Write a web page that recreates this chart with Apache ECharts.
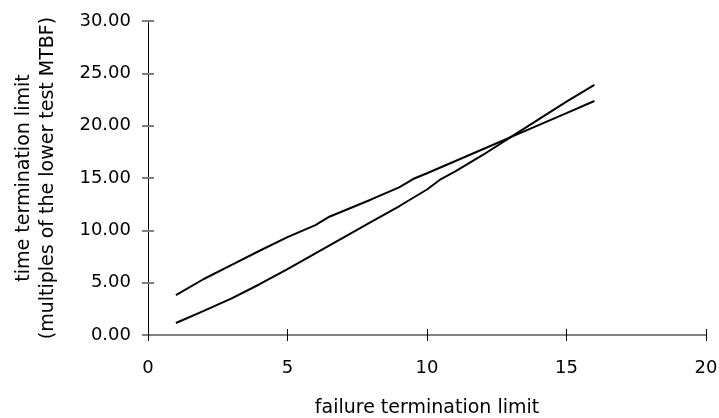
<!DOCTYPE html>
<html>
<head>
<meta charset="utf-8">
<script src="https://cdn.jsdelivr.net/npm/echarts@6/dist/echarts.min.js"></script>
<style>
  html, body { margin: 0; padding: 0; background: #fff; }
  #chart { width: 719px; height: 418px; }
</style>
</head>
<body>
<div id="chart"></div>
<script>
// values
const upperX = [1, 2, 3, 4, 5, 6, 6.5, 7, 8, 9, 9.5, 10, 11, 12, 13, 14, 15, 16]
const upperY = [3.8, 5.35, 6.7, 8.05, 9.35, 10.5, 11.3, 11.85, 12.95, 14.1, 14.9, 15.45, 16.6, 17.75, 18.9, 20.05, 21.2, 22.36]
const lowerX = [1, 2, 3, 4, 5, 6, 7, 8, 9, 10, 10.5, 11, 12, 13, 14, 15, 16]
const lowerY = [1.15, 2.3, 3.5, 4.85, 6.3, 7.8, 9.3, 10.8, 12.3, 13.9, 14.9, 15.6, 17.2, 18.9, 20.6, 22.3, 23.9]
const xTicks = [0, 5, 10, 15, 20]
const yTicks = [0, 5, 10, 15, 20, 25, 30]

const font = 'DejaVu Sans'
const pairs = (xs, ys) => xs.map((x, i) => [x, ys[i]])

const chart = echarts.init(document.getElementById('chart'))
chart.setOption({
    animation: false,
    backgroundColor: '#fff',
    textStyle: { fontFamily: font },
    grid: { left: 148, right: 13, top: 21, bottom: 83, outerBoundsMode: 'none', containLabel: false },
    xAxis: [
        {
            type: 'value',
            min: xTicks[0], max: xTicks[xTicks.length - 1], interval: 5,
            name: 'failure termination limit',
            nameLocation: 'middle',
            nameGap: 64,
            nameTextStyle: { color: '#000', fontSize: 19, fontFamily: font },
            axisLine: { lineStyle: { color: '#808080', width: 2 } },
            axisTick: { show: false },
            axisLabel: { color: '#000', fontSize: 18, margin: 24, fontFamily: font },
            splitLine: { show: false }
        },
        {
            // tick-only axis, shifted up so its ticks cross the real axis line
            type: 'value', position: 'bottom', offset: -6,
            min: xTicks[0], max: xTicks[xTicks.length - 1], interval: 5,
            axisLine: { show: true, lineStyle: { color: 'rgba(0,0,0,0)' } },
            axisTick: { show: true, length: 12, lineStyle: { color: '#000' } },
            axisLabel: { show: false },
            splitLine: { show: false }
        }
    ],
    yAxis: [
        {
            type: 'value',
            min: yTicks[0], max: yTicks[yTicks.length - 1], interval: 5,
            name: 'time termination limit\n(multiples of the lower test MTBF)',
            nameLocation: 'middle',
            nameRotate: 90,
            nameGap: 88,
            nameTextStyle: { color: '#000', fontSize: 19, lineHeight: 24, fontFamily: font },
            axisLine: { show: true, lineStyle: { color: '#000', width: 1 } },
            axisTick: { show: false },
            axisLabel: {
                color: '#000', fontSize: 18, margin: 17, fontFamily: font,
                formatter: v => v.toFixed(2)
            },
            splitLine: { show: false }
        },
        {
            type: 'value', position: 'left', offset: -6,
            min: yTicks[0], max: yTicks[yTicks.length - 1], interval: 5,
            axisLine: { show: true, lineStyle: { color: 'rgba(0,0,0,0)' } },
            axisTick: { show: true, length: 12, lineStyle: { color: '#808080', width: 2 } },
            axisLabel: { show: false },
            splitLine: { show: false }
        }
    ],
    series: [
        {
            type: 'line',
            data: pairs(upperX, upperY),
            showSymbol: false,
            lineStyle: { color: '#000', width: 2 },
            z: 5
        },
        {
            type: 'line',
            data: pairs(lowerX, lowerY),
            showSymbol: false,
            lineStyle: { color: '#000', width: 2 },
            z: 5
        }
    ]
})
</script>
</body>
</html>
